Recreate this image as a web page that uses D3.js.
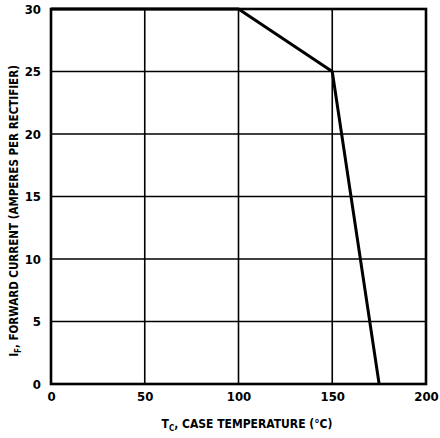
<!DOCTYPE html>
<html><head><meta charset="utf-8">
<script src="https://cdn.jsdelivr.net/npm/d3@7"></script>
<style>body{margin:0;background:#fff}svg{display:block}text{font-family:"Liberation Sans Narrow","DejaVu Sans Condensed","Arial Narrow",sans-serif;font-weight:bold;fill:#000}</style>
</head><body><svg id="c" width="440" height="438"></svg>
<script>
const tempC = [0, 100, 150, 175];
const currentA = [30, 30, 25, 0];
const xTicks = [0, 50, 100, 150, 200];
const yTicks = [0, 5, 10, 15, 20, 25, 30];

const svg = d3.select("#c");
const m = {l: 51, r: 426, t: 9, b: 384};
const x = d3.scaleLinear().domain([0, 200]).range([m.l, m.r]);
const y = d3.scaleLinear().domain([0, 30]).range([m.b, m.t]);

const g = svg.append("g");
g.selectAll(".vg").data(xTicks).join("line")
  .attr("x1", d => x(d)).attr("x2", d => x(d)).attr("y1", m.t).attr("y2", m.b)
  .attr("stroke", "#000").attr("stroke-width", 1.6);
g.selectAll(".hg").data(yTicks).join("line")
  .attr("y1", d => y(d)).attr("y2", d => y(d)).attr("x1", m.l).attr("x2", m.r)
  .attr("stroke", "#000").attr("stroke-width", 1.6);
g.append("rect").attr("x", m.l).attr("y", m.t).attr("width", m.r - m.l).attr("height", m.b - m.t)
  .attr("fill", "none").attr("stroke", "#000").attr("stroke-width", 2.6);

const xAxis = d3.axisBottom(x).tickValues(xTicks).tickSize(0).tickPadding(8);
const xa = svg.append("g").attr("transform", `translate(0,${m.b})`).call(xAxis);
xa.select(".domain").remove();
xa.selectAll("text").style("font-size", "13px").attr("dy", "0.71em");

const yAxis = d3.axisLeft(y).tickValues(yTicks).tickSize(0).tickPadding(10);
const ya = svg.append("g").attr("transform", `translate(${m.l},0)`).call(yAxis);
ya.select(".domain").remove();
ya.selectAll("text").style("font-size", "13px");

const line = d3.line().x(d => x(d[0])).y(d => y(d[1]));
svg.append("path").datum(tempC.map((t, i) => [t, currentA[i]]))
  .attr("d", line).attr("fill", "none").attr("stroke", "#000").attr("stroke-width", 3).attr("stroke-linejoin", "round");

const xl = svg.append("text").attr("x", 247).attr("y", 428).attr("text-anchor", "middle").style("font-size", "12px");
xl.append("tspan").text("T");
xl.append("tspan").text("C").attr("dy", 3).style("font-size", "8px");
xl.append("tspan").text(", CASE TEMPERATURE (°C)").attr("dy", -3);

const yl = svg.append("text").attr("transform", `translate(18,211) rotate(-90)`).attr("text-anchor", "middle").style("font-size", "11.5px");
yl.append("tspan").text("I");
yl.append("tspan").text("F").attr("dy", 3).style("font-size", "8px");
yl.append("tspan").text(", FORWARD CURRENT (AMPERES PER RECTIFIER)").attr("dy", -3);
</script></body></html>
